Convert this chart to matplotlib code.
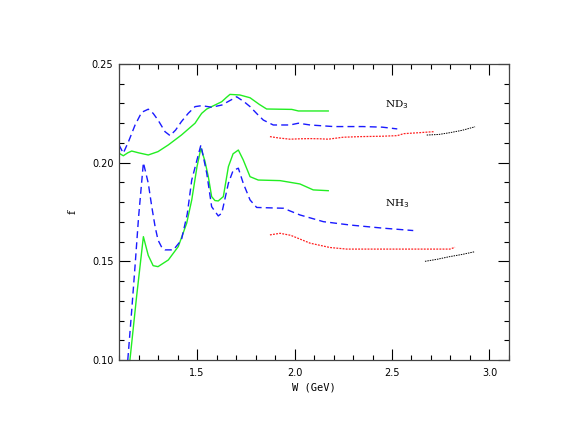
import matplotlib
matplotlib.use("Agg")
import matplotlib.pyplot as plt
from matplotlib.ticker import MultipleLocator

# ND3 curves (upper group)
nd3_green_w = [1.10, 1.122, 1.145, 1.165, 1.20, 1.25, 1.30, 1.353, 1.42, 1.49, 1.51, 1.524,
               1.55, 1.575, 1.627, 1.65, 1.669, 1.72, 1.772, 1.82, 1.857, 1.92, 1.986, 2.02,
               2.10, 2.173]
nd3_green_f = [0.2048, 0.2035, 0.2050, 0.2059, 0.2050, 0.2039, 0.2056, 0.2090, 0.2140, 0.2200,
               0.2230, 0.2250, 0.2272, 0.2284, 0.2309, 0.2330, 0.2346, 0.2343, 0.2329, 0.2295,
               0.2272, 0.2271, 0.2270, 0.2262, 0.2262, 0.2262]

nd3_blue_w = [1.10, 1.122, 1.15, 1.182, 1.216, 1.25, 1.275, 1.30, 1.336, 1.362, 1.39, 1.42,
              1.455, 1.49, 1.524, 1.575, 1.627, 1.66, 1.695, 1.703, 1.74, 1.772, 1.81, 1.84,
              1.891, 1.977, 2.02, 2.08, 2.20, 2.35, 2.45, 2.527]
nd3_blue_f = [0.2090, 0.2048, 0.2110, 0.2190, 0.2255, 0.2271, 0.2250, 0.2216, 0.2157, 0.2137,
              0.2165, 0.2208, 0.2250, 0.2284, 0.2289, 0.2281, 0.2292, 0.2310, 0.2329, 0.2334,
              0.2310, 0.2284, 0.2245, 0.2216, 0.2191, 0.2191, 0.2200, 0.2191, 0.2183, 0.2183,
              0.2180, 0.2171]

nd3_red_w = [1.874, 1.92, 1.977, 2.03, 2.08, 2.13, 2.173, 2.25, 2.336, 2.45, 2.527, 2.56,
             2.64, 2.713]
nd3_red_f = [0.2132, 0.2125, 0.2119, 0.2121, 0.2122, 0.2121, 0.2119, 0.2129, 0.2132, 0.2134,
             0.2137, 0.2147, 0.2152, 0.2157]

nd3_black_w = [2.678, 2.74, 2.797, 2.86, 2.926]
nd3_black_f = [0.2140, 0.2143, 0.2152, 0.2164, 0.2182]

# NH3 curves (lower group)
nh3_green_w = [1.156, 1.19, 1.225, 1.25, 1.275, 1.30, 1.353, 1.404, 1.447, 1.473, 1.50, 1.52,
               1.54, 1.558, 1.575, 1.592, 1.609, 1.635, 1.661, 1.685, 1.712, 1.737, 1.772,
               1.814, 1.926, 2.028, 2.096, 2.173]
nh3_green_f = [0.1000, 0.1320, 0.1625, 0.1530, 0.1478, 0.1473, 0.1507, 0.1575, 0.1693, 0.1811,
               0.1980, 0.2073, 0.2010, 0.1929, 0.1828, 0.1808, 0.1806, 0.1828, 0.1980, 0.2045,
               0.2064, 0.2014, 0.1929, 0.1912, 0.1909, 0.1892, 0.1862, 0.1858]

nh3_blue_w = [1.145, 1.165, 1.182, 1.20, 1.225, 1.25, 1.268, 1.285, 1.30, 1.319, 1.336, 1.379,
              1.42, 1.45, 1.473, 1.52, 1.55, 1.575, 1.609, 1.627, 1.661, 1.685, 1.712, 1.737,
              1.772, 1.806, 1.943, 2.028, 2.148, 2.285, 2.455, 2.609]
nh3_blue_f = [0.1000, 0.1250, 0.1473, 0.1720, 0.2000, 0.1896, 0.1777, 0.1676, 0.1608, 0.1571,
              0.1558, 0.1558, 0.1608, 0.1740, 0.1912, 0.2090, 0.1946, 0.1777, 0.1730, 0.1744,
              0.1896, 0.1960, 0.1972, 0.1896, 0.1811, 0.1773, 0.1769, 0.1735, 0.1701, 0.1684,
              0.1668, 0.1656]

nh3_red_w = [1.874, 1.926, 1.98, 2.03, 2.08, 2.182, 2.268, 2.40, 2.60, 2.797, 2.823]
nh3_red_f = [0.1634, 0.1642, 0.1632, 0.1612, 0.1592, 0.1570, 0.1562, 0.1562, 0.1562, 0.1562,
             0.1571]

nh3_black_w = [2.669, 2.73, 2.797, 2.86, 2.926]
nh3_black_f = [0.1500, 0.1510, 0.1524, 0.1535, 0.1549]

green = "#22ee22"
blue = "#1a1aff"
red = "#ff2020"

fig = plt.figure(figsize=(5.73, 4.43), dpi=100)
ax = fig.add_axes([0.2077, 0.1874, 0.6806, 0.6681])

for w, f in [(nd3_green_w, nd3_green_f), (nh3_green_w, nh3_green_f)]:
    ax.plot(w, f, color=green, lw=1.0, ls="-")
for w, f in [(nd3_blue_w, nd3_blue_f), (nh3_blue_w, nh3_blue_f)]:
    ax.plot(w, f, color=blue, lw=1.0, ls=(0, (5, 3)))
for w, f in [(nd3_red_w, nd3_red_f), (nh3_red_w, nh3_red_f)]:
    ax.plot(w, f, color=red, lw=0.9, ls=(0, (1.5, 1)))
for w, f in [(nd3_black_w, nd3_black_f), (nh3_black_w, nh3_black_f)]:
    ax.plot(w, f, color="black", lw=0.7, ls=(0, (1.5, 1)))

ax.text(2.525, 0.2292, r"ND$_3$", family="DejaVu Serif", fontsize=7.5, ha="center", va="center")
ax.text(2.525, 0.1794, r"NH$_3$", family="DejaVu Serif", fontsize=7.5, ha="center", va="center")

ax.set_xlim(1.1, 3.1)
ax.set_ylim(0.10, 0.25)
ax.xaxis.set_major_locator(MultipleLocator(0.5))
ax.xaxis.set_minor_locator(MultipleLocator(0.1))
ax.yaxis.set_major_locator(MultipleLocator(0.05))
ax.yaxis.set_minor_locator(MultipleLocator(0.01))
ax.xaxis.set_major_formatter(plt.FuncFormatter(lambda v, p: "%.1f" % v))
ax.yaxis.set_major_formatter(plt.FuncFormatter(lambda v, p: "%.2f" % v))

ax.tick_params(which="both", direction="in", top=True, right=True, width=0.8, labelsize=7)
ax.tick_params(which="major", length=8)
ax.tick_params(which="minor", length=3.5)
ax.tick_params(axis="x", pad=6)
ax.tick_params(axis="y", pad=4)
for s in ax.spines.values():
    s.set_linewidth(0.9)
    s.set_color("#444444")

ax.set_xlabel("W (GeV)", family="DejaVu Sans Mono", fontsize=7.5, labelpad=3)
ax.set_ylabel("f", family="DejaVu Serif", fontsize=8, labelpad=10)

fig.savefig("out.png", dpi=100)
